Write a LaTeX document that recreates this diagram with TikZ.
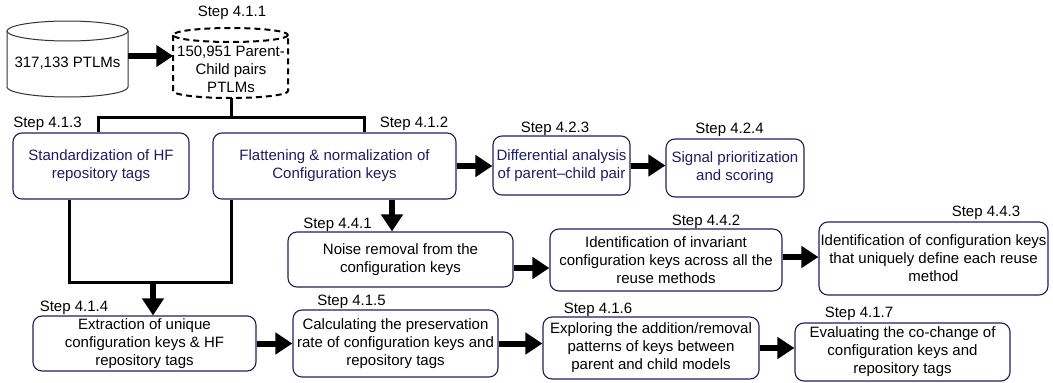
\documentclass[tikz,border=0pt]{standalone}
\usepackage{fontspec}
\setmainfont{Liberation Sans}
\usetikzlibrary{arrows.meta}
\definecolor{boxline}{RGB}{32,32,88}
\definecolor{boxtext}{RGB}{28,28,96}

\begin{document}
\begin{tikzpicture}[x=1pt,y=-1pt]
		\tikzset{
			basefont/.style = {font = \fontsize{15}{18}\selectfont},
			steplabel/.style = {basefont, inner sep = 0pt},
			stage/.style = {basefont, align = center, inner sep = 1pt, draw = boxline, line width = 1.1pt, rounded corners = 9pt},
			topstage/.style = {stage, text = boxtext},
			link/.style = {line width = 3pt},
			flow/.style = {line width = 6pt, -{Triangle[length = 17pt, width = 21pt]}},
			tank/.style = {line width = 1pt, draw = black!80},
			pairstank/.style = {line width = 2pt, dash pattern = on 6pt off 4pt},
		};
		\useasboundingbox (0,0) rectangle (1053,383);

		% data sources
		\draw[tank] (7,31) -- (7,87) arc[start angle = 180, end angle = 0, x radius = 60.5, y radius = 10] -- (128,31);
		\draw[tank] (67.5,31) ellipse [x radius = 60.5, y radius = 10];
		\node[basefont, minimum width = 121pt, inner sep = 0pt] (ptlms) at (67.5,63) {317,133 PTLMs};

		\draw[pairstank] (173,35) -- (173,91) arc[start angle = 180, end angle = 0, x radius = 57.5, y radius = 7] -- (288,35);
		\draw[pairstank] (230.5,35) ellipse [x radius = 57.5, y radius = 7];
		\node[basefont, align = center, minimum width = 115pt, inner sep = 0pt] (pairs) at (231,69) {150,951 Parent-\\Child pairs\\PTLMs};
		\node[steplabel] (s411) at (232,13) {Step 4.1.1};
		\coordinate (pairs-base) at (231.5,98);
		\coordinate (split) at (231.5,117);
		\coordinate (merge) at (153,282);

		% stages
		\node[topstage, minimum width = 176pt, minimum height = 66pt] (std) at (101,166) {Standardization of HF\\repository tags};
		\node[topstage, minimum width = 243pt, minimum height = 66pt] (flat) at (334.5,166) {Flattening \& normalization of\\Configuration keys};
		\node[topstage, minimum width = 137pt, minimum height = 59pt] (diff) at (561.5,165.5) {Differential analysis\\of parent--child pair};
		\node[topstage, minimum width = 138pt, minimum height = 58pt] (signal) at (735,168) {Signal prioritization\\and scoring};

		\node[stage, minimum width = 225pt, minimum height = 55pt] (noise) at (400.5,259.5) {Noise removal from the\\configuration keys};
		\node[stage, minimum width = 232pt, minimum height = 62pt] (invar) at (666,260) {Identification of invariant\\configuration keys across all the\\reuse methods};
		\node[stage, minimum width = 229pt, minimum height = 73pt] (unique) at (933.5,258.5) {Identification of configuration keys\\that uniquely define each reuse\\method};

		\node[stage, minimum width = 223pt, minimum height = 55pt] (extract) at (144.5,343.5) {Extraction of unique\\configuration keys \& HF\\repository tags};
		\node[stage, minimum width = 205pt, minimum height = 67pt] (preserve) at (395.5,343.5) {Calculating the preservation\\rate of configuration keys and\\repository tags};
		\node[stage, minimum width = 216pt, minimum height = 62pt] (explore) at (651,348) {Exploring the addition/removal\\patterns of keys between\\parent and child models};
		\node[stage, minimum width = 215pt, minimum height = 58pt] (cochange) at (902.5,352) {Evaluating the co-change of\\configuration keys and\\repository tags};

		% step numbers
		\node[steplabel] (s413) at (47.5,124) {Step 4.1.3};
		\node[steplabel] (s412) at (414,124) {Step 4.1.2};
		\node[steplabel] (s423) at (555,129) {Step 4.2.3};
		\node[steplabel] (s424) at (729.5,130) {Step 4.2.4};
		\node[steplabel] (s441) at (337.5,225) {Step 4.4.1};
		\node[steplabel] (s442) at (706,222) {Step 4.4.2};
		\node[steplabel] (s443) at (986,213) {Step 4.4.3};
		\node[steplabel] (s414) at (74,308) {Step 4.1.4};
		\node[steplabel] (s415) at (351.5,302) {Step 4.1.5};
		\node[steplabel] (s416) at (598,310) {Step 4.1.6};
		\node[steplabel] (s417) at (859,314) {Step 4.1.7};

		% connectors
		\coordinate (flat-drop) at ([xshift = 57.5pt]flat.south);
		\coordinate (noise-out) at ([yshift = -8.5pt]noise.east);
		\coordinate (invar-out) at ([yshift = 3pt]invar.east);

		\draw[flow] ([yshift = 7pt]ptlms.east) -- ([yshift = 7pt]ptlms.east -| pairs.west);
		\draw[link] (pairs-base) -- (split);
		\draw[link] ([xshift = -3pt]std.north) |- (split) -| ([xshift = 29.5pt]flat.north);
		\draw[link] ([xshift = -32pt]std.south) |- (merge) -| ([xshift = -103.5pt]flat.south);
		\draw[flow] (merge) -- (merge |- extract.north);
		\draw[flow] (flat-drop) -- (flat-drop |- noise.north);

		\draw[flow] (flat.east) -- (flat.east -| diff.west);
		\draw[flow] (diff.east) -- (diff.east -| signal.west);
		\draw[flow] (noise-out) -- (noise-out -| invar.west);
		\draw[flow] (invar-out) -- (invar-out -| unique.west);
		\draw[flow] (extract.east) -- (extract.east -| preserve.west);
		\draw[flow] (preserve.east) -- (preserve.east -| explore.west);
		\draw[flow] (explore.east) -- (explore.east -| cochange.west);
	\end{tikzpicture}
\end{document}
